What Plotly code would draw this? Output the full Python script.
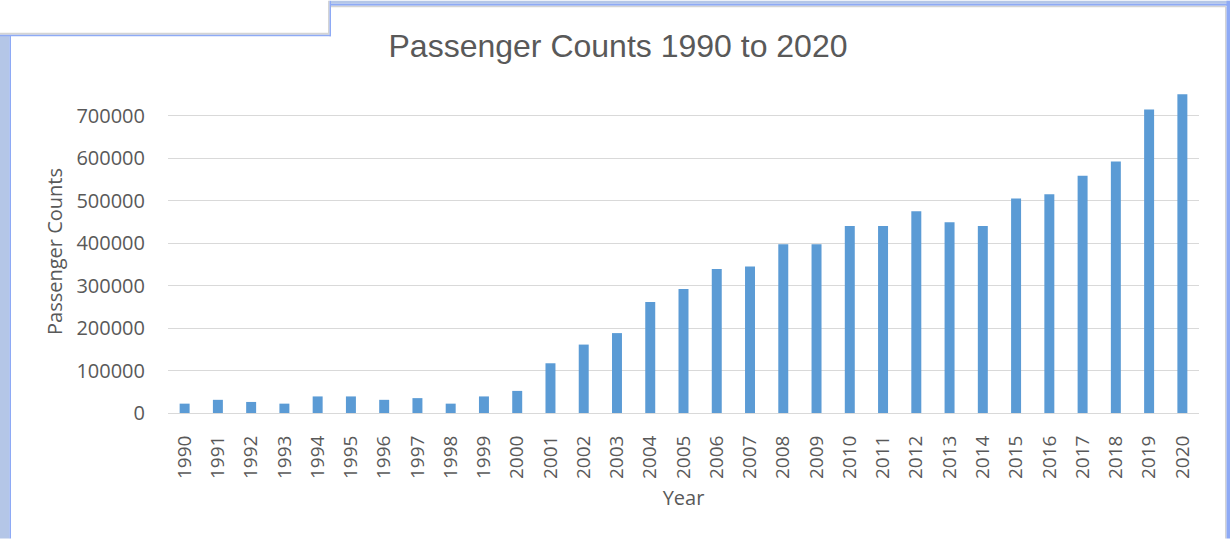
import plotly.graph_objects as go

years = [str(y) for y in range(1990, 2021)]
passengers = [22000, 31000, 26000, 22000, 39000, 39000, 31000, 35000, 22000, 39000,
              52000, 117000, 161000, 188000, 261000, 292000, 339000, 345000, 397000, 397000,
              440000, 440000, 475000, 449000, 440000, 505000, 515000, 558000, 592000, 714000,
              750000]
y_ticks = [0, 100000, 200000, 300000, 400000, 500000, 600000, 700000]

W, H = 1230, 539
L, R, T, B = 168, 31, 89.5, 125.7
PW, PH = W - L - R, H - T - B

def px(x):
    return (x - L) / PW

def py(y):
    return (H - B - y) / PH

fig = go.Figure(go.Bar(
    x=years, y=passengers, marker=dict(color="#5b9bd5", line=dict(width=0)),
    width=0.3,
))

shapes = []
def rect(x0, y0, x1, y1, color):
    shapes.append(dict(type="rect", xref="paper", yref="paper", layer="above",
                       x0=px(x0), x1=px(x1), y0=py(y0), y1=py(y1),
                       fillcolor=color, line=dict(width=0)))

# frame decorations
rect(0, 35, 9.5, H, "#b4c6e7")
rect(9.5, 35, 11, H, "#8eaaf5")
rect(0, 32, 329, 34, "#d4d4d4")
rect(0, 34, 331, 35.5, "#8eaaf5")
rect(328, 0, 329.5, 34, "#d4d4d4")
rect(329.5, 0, 331, 35.5, "#8eaaf5")
rect(331, 0, W, 3, "#b4c6e7")
rect(331, 3, W, 5, "#8eaaf5")
rect(331, 5, W - 4, 6.5, "#d4d4d4")
rect(W - 5, 6, W - 3.5, H, "#d4d4d4")
rect(W - 3.5, 0, W, H, "#8eaaf5")

fig.update_layout(
    width=W, height=H,
    margin=dict(l=L, r=R, t=T, b=B),
    paper_bgcolor="white", plot_bgcolor="white",
    shapes=shapes,
    showlegend=False,
    title=dict(text="Passenger Counts 1990 to 2020", x=(618) / W, xanchor="center",
               y=1 - 46 / H, yanchor="middle",
               font=dict(family="Liberation Sans, Arial", size=32, color="#595959")),
    font=dict(family="Open Sans, sans-serif", size=20, color="#595959"),
)
fig.update_xaxes(
    type="category", tickangle=-90, ticks="outside", ticklen=14,
    tickcolor="rgba(0,0,0,0)", showgrid=False, showline=False,
    tickfont=dict(size=19, color="#595959"),
    title=dict(text="Year", standoff=12, font=dict(size=20, color="#595959")),
)
fig.update_yaxes(
    range=[0, 760000], tickvals=y_ticks, ticktext=[str(v) for v in y_ticks],
    showgrid=True, gridcolor="#d9d9d9", gridwidth=1.3,
    zeroline=True, zerolinecolor="#d9d9d9", zerolinewidth=1.3,
    ticks="outside", ticklen=18, tickcolor="rgba(0,0,0,0)",
    tickfont=dict(size=20, color="#595959"),
    title=dict(text="Passenger Counts", standoff=8, font=dict(size=20, color="#595959")),
)

fig.write_html("out.html", config={"displayModeBar": False},
               post_script="document.body.style.margin='0px';document.body.style.overflow='hidden';")
